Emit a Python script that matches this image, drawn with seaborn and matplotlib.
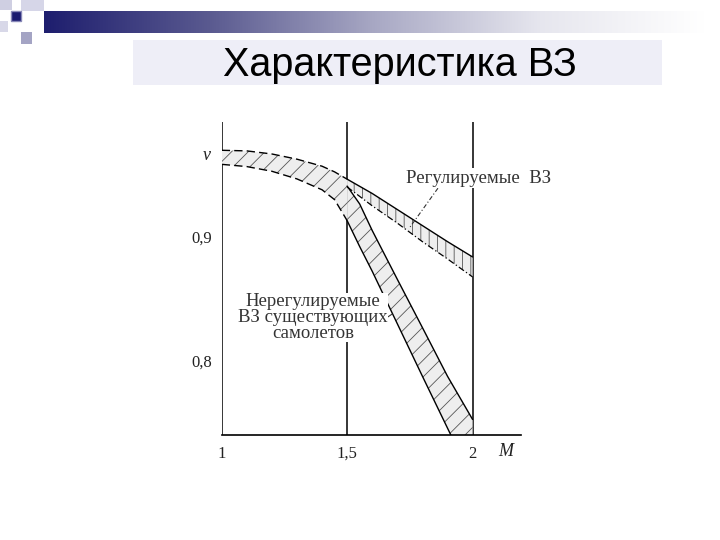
import numpy as np
import pandas as pd
import seaborn as sns
import matplotlib.pyplot as plt
from matplotlib.patches import Rectangle
from matplotlib.colors import LinearSegmentedColormap

# ---------------- data ----------------
M_common = [1.0, 1.1, 1.2, 1.3, 1.4, 1.45, 1.5]
nu_common_upper = [0.970, 0.9695, 0.967, 0.9628, 0.9571, 0.9525, 0.9466]
nu_common_lower = [0.9586, 0.9568, 0.953, 0.9468, 0.938, 0.930, 0.913]

M_reg = [1.5, 1.6, 1.7, 1.8, 1.9, 2.0]
nu_reg_upper = [0.9466, 0.935, 0.922, 0.909, 0.896, 0.8836]
nu_reg_lower = [0.9403, 0.925, 0.911, 0.896, 0.882, 0.8674]

M_unreg = [1.5, 1.55, 1.6, 1.7, 1.8, 1.9, 2.0]
nu_unreg_upper = [0.941, 0.9265, 0.905, 0.8655, 0.8264, 0.787, 0.752]
nu_unreg_lower = [0.913, 0.892, 0.872, 0.8295, 0.787, 0.745, 0.703]

x_ticks = [1, 1.5, 2]
x_tick_labels = ["1", "1,5", "2"]
y_ticks = [0.8, 0.9]
y_tick_labels = ["0,8", "0,9"]

title = "Характеристика ВЗ"
label_reg = "Регулируемые  ВЗ"
label_unreg = "Нерегулируемые\nВЗ существующих\nсамолетов"

# ---------------- figure ----------------
sns.set_theme(style="white")
plt.rcParams["font.family"] = ["Liberation Serif", "DejaVu Serif"]
plt.rcParams["hatch.linewidth"] = 0.6

W, H = 720, 540
fig = plt.figure(figsize=(7.2, 5.4), dpi=100)
fig.patch.set_facecolor("white")

# background decoration (slide template)
bg = fig.add_axes([0, 0, 1, 1], zorder=-1)
bg.set_xlim(0, W)
bg.set_ylim(H, 0)
bg.axis("off")
cmap = LinearSegmentedColormap.from_list(
    "bar", ["#1e1e6e", "#5a5a90", "#a8a8c4", "#e6e6ee", "#ffffff"])
grad = np.linspace(0, 1, 256).reshape(1, -1)
bg.imshow(grad, cmap=cmap, extent=(44, 705, 33, 11), aspect="auto")
bg.add_patch(Rectangle((0, 0), 12, 10, facecolor="#cfcfe2", edgecolor="none"))
bg.add_patch(Rectangle((21, 0), 23, 11, facecolor="#d6d6e8", edgecolor="none"))
bg.add_patch(Rectangle((11, 11), 10, 10, facecolor="#1a1a70", edgecolor="#8888b8", lw=1))
bg.add_patch(Rectangle((0, 21), 8, 11, facecolor="#d8d8e8", edgecolor="none"))
bg.add_patch(Rectangle((21, 32), 11, 12, facecolor="#a4a4c4", edgecolor="none"))
# title band
bg.add_patch(Rectangle((133, 40), 529, 45, facecolor="#eeeef7", edgecolor="none"))
bg.text(400, 65, title, ha="center", va="center", fontsize=28.5,
        family=["Liberation Sans", "DejaVu Sans"], color="black")

# chart axes
ax = fig.add_axes([221.7 / W, 1 - 435 / H, (521 - 221.7) / W, (435 - 122) / H])
ax.set_xlim(1, 2.193)
ax.set_ylim(0.7394, 0.9929)
for s in ["top", "right", "left"]:
    ax.spines[s].set_visible(False)
ax.spines["bottom"].set_color("black")
ax.spines["bottom"].set_linewidth(1.2)
for xv in x_ticks:
    ax.axvline(xv, color="black", lw=1.1, zorder=1)

fill_kw = dict(facecolor="#eeeeee", edgecolor="#555555", linewidth=0, zorder=2)
ax.fill_between(M_common, nu_common_lower, nu_common_upper, hatch="//", **fill_kw)
ax.fill_between(M_reg, nu_reg_lower, nu_reg_upper, hatch="||", **fill_kw)
ax.fill_between(M_unreg, nu_unreg_lower, nu_unreg_upper, hatch="//", **fill_kw)

line_kw = dict(ax=ax, color="black", sort=False, estimator=None, legend=False, zorder=3)
sns.lineplot(x=M_common, y=nu_common_upper, lw=1.0, linestyle=(0, (6, 3)), **line_kw)
sns.lineplot(x=M_common, y=nu_common_lower, lw=1.0, linestyle=(0, (6, 3)), **line_kw)
sns.lineplot(x=M_reg, y=nu_reg_upper, lw=1.0, **line_kw)
sns.lineplot(x=M_reg, y=nu_reg_lower, lw=0.9, linestyle=(0, (5, 2, 1, 2)), **line_kw)
sns.lineplot(x=M_unreg, y=nu_unreg_upper, lw=1.0, **line_kw)
sns.lineplot(x=M_unreg, y=nu_unreg_lower, lw=1.0, **line_kw)

# ticks
ax.set_xticks(x_ticks, x_tick_labels)
ax.set_yticks(y_ticks, y_tick_labels)
ax.tick_params(axis="both", length=0, labelsize=12, labelcolor="#222222")
ax.tick_params(axis="x", pad=8)
ax.tick_params(axis="y", pad=7)
ax.set_xlabel("")
ax.set_ylabel("")

ax.annotate("ν", xy=(1, 0.966), xytext=(-8, 0), textcoords="offset points",
            ha="right", va="center", fontsize=13, style="italic", color="#222222")
ax.annotate("M", xy=(2.131, 0.7394), xytext=(0, -6), textcoords="offset points",
            ha="center", va="top", fontsize=13, style="italic", color="#222222",
            annotation_clip=False)

# annotations
ax.text(2.022, 0.9475, label_reg, ha="center", va="center", fontsize=13.5,
        color="#333333", zorder=5, clip_on=False,
        bbox=dict(facecolor="white", edgecolor="none", pad=1))
ax.plot([1.862, 1.751], [0.9393, 0.9079], color="#333333", lw=0.8,
        linestyle=(0, (4, 2, 1, 2)), zorder=4)

ax.text(1.365, 0.8345, label_unreg, ha="center", va="center", fontsize=13.5,
        color="#333333", linespacing=0.95, zorder=5,
        bbox=dict(facecolor="white", edgecolor="none", pad=0))
ax.plot([1.631, 1.679], [0.8308, 0.8373], color="#333333", lw=0.8, zorder=4)

fig.savefig("out.png", dpi=100)
